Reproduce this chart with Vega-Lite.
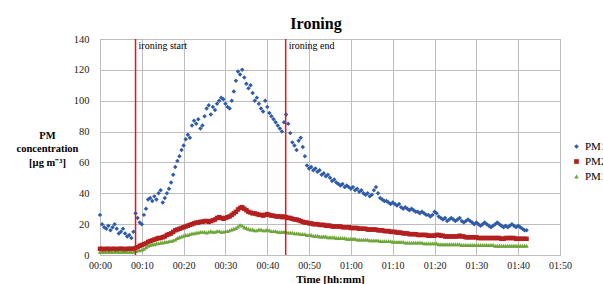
{
"$schema": "https://vega.github.io/schema/vega-lite/v6.json",
"width": 460, "height": 216,
"autosize": {"type": "none"},
"padding": {"left": 100, "top": 39, "right": 43, "bottom": 29},
"background": "white",
"config": {"font": "Liberation Serif", "view": {"stroke": "#A6A6A6"}},
"title": {"text": "Ironing", "fontSize": 16, "fontWeight": "bold", "font": "Liberation Serif", "anchor": "middle", "dx": -14, "offset": 2, "color": "black"},
"layer": [
{"data": {"values": [
{"t":0,"a":26,"b":4,"c":2},{"t":0.5,"a":20,"b":4,"c":2},{"t":1,"a":18,"b":3.5,"c":2},{"t":1.5,"a":17,"b":4,"c":2},{"t":2,"a":19,"b":4,"c":2},{"t":2.5,"a":16,"b":3.5,"c":2},{"t":3,"a":18,"b":4,"c":2},{"t":3.5,"a":20,"b":4,"c":2},{"t":4,"a":17,"b":3.5,"c":2},{"t":4.5,"a":14,"b":4,"c":2},{"t":5,"a":15,"b":4,"c":2},{"t":5.5,"a":17,"b":4,"c":2},{"t":6,"a":14,"b":3.5,"c":2},{"t":6.5,"a":12,"b":4,"c":2},{"t":7,"a":13,"b":4,"c":2},{"t":7.5,"a":11,"b":4,"c":2},{"t":8,"a":15,"b":4,"c":2},{"t":8.5,"a":27,"b":4.5,"c":2.5},{"t":9,"a":24,"b":5,"c":3},{"t":9.5,"a":21,"b":6,"c":3},{"t":10,"a":20,"b":6.5,"c":3.5},{"t":10.5,"a":26,"b":7,"c":4},{"t":11,"a":30,"b":7.5,"c":5},{"t":11.5,"a":36,"b":8.5,"c":6},{"t":12,"a":37,"b":9,"c":6.5},{"t":12.5,"a":35,"b":9.5,"c":7},{"t":13,"a":38,"b":10,"c":7},{"t":13.5,"a":36,"b":10.5,"c":7.5},{"t":14,"a":40,"b":11,"c":7.5},{"t":14.5,"a":42,"b":11,"c":8},{"t":15,"a":34,"b":11.5,"c":8},{"t":15.5,"a":37,"b":12,"c":8.5},{"t":16,"a":40,"b":13,"c":8.5},{"t":16.5,"a":43,"b":13.5,"c":9},{"t":17,"a":47,"b":14,"c":9},{"t":17.5,"a":52,"b":15,"c":9.5},{"t":18,"a":57,"b":16,"c":10},{"t":18.5,"a":61,"b":16.5,"c":11},{"t":19,"a":64,"b":17,"c":11.5},{"t":19.5,"a":68,"b":17.5,"c":12},{"t":20,"a":71,"b":18,"c":12.5},{"t":20.5,"a":75,"b":18.5,"c":13},{"t":21,"a":78,"b":19,"c":13},{"t":21.5,"a":76,"b":19.5,"c":13.5},{"t":22,"a":84,"b":20,"c":14},{"t":22.5,"a":87,"b":20.5,"c":14},{"t":23,"a":85,"b":21,"c":14.5},{"t":23.5,"a":88,"b":21,"c":14.5},{"t":24,"a":82,"b":21.5,"c":15},{"t":24.5,"a":84,"b":21.5,"c":15},{"t":25,"a":90,"b":22,"c":15},{"t":25.5,"a":95,"b":22,"c":14.5},{"t":26,"a":97,"b":21.5,"c":15},{"t":26.5,"a":91,"b":22,"c":15.5},{"t":27,"a":96,"b":22.5,"c":15},{"t":27.5,"a":94,"b":23,"c":15},{"t":28,"a":98,"b":24,"c":15.5},{"t":28.5,"a":100,"b":24.5,"c":15.5},{"t":29,"a":102,"b":24,"c":15},{"t":29.5,"a":101,"b":23.5,"c":15},{"t":30,"a":98,"b":24,"c":15.5},{"t":30.5,"a":96,"b":24.5,"c":15.5},{"t":31,"a":95,"b":25,"c":16},{"t":31.5,"a":100,"b":26,"c":16.5},{"t":32,"a":106,"b":27,"c":17},{"t":32.5,"a":113,"b":28,"c":17.5},{"t":33,"a":119,"b":29.5,"c":18.5},{"t":33.5,"a":117,"b":30.5,"c":19.5},{"t":34,"a":120,"b":31,"c":19},{"t":34.5,"a":115,"b":30,"c":18},{"t":35,"a":111,"b":29,"c":17.5},{"t":35.5,"a":108,"b":28,"c":17},{"t":36,"a":110,"b":27.5,"c":16.5},{"t":36.5,"a":105,"b":27,"c":16.5},{"t":37,"a":100,"b":27,"c":16},{"t":37.5,"a":102,"b":26.5,"c":16},{"t":38,"a":98,"b":26,"c":16.5},{"t":38.5,"a":95,"b":26,"c":16.5},{"t":39,"a":93,"b":25.5,"c":16},{"t":39.5,"a":100,"b":26,"c":16},{"t":40,"a":96,"b":26.5,"c":16.5},{"t":40.5,"a":92,"b":26,"c":16},{"t":41,"a":90,"b":25.5,"c":15.5},{"t":41.5,"a":88,"b":25.5,"c":15.5},{"t":42,"a":86,"b":25,"c":15.5},{"t":42.5,"a":84,"b":25,"c":15},{"t":43,"a":82,"b":25,"c":15},{"t":43.5,"a":80,"b":24.5,"c":15},{"t":44,"a":86,"b":25,"c":15},{"t":44.5,"a":91,"b":24.5,"c":15},{"t":45,"a":85,"b":24,"c":14.5},{"t":45.5,"a":79,"b":24,"c":14.5},{"t":46,"a":73,"b":23.5,"c":14.5},{"t":46.5,"a":71,"b":23,"c":14},{"t":47,"a":68,"b":23,"c":14},{"t":47.5,"a":74,"b":22.5,"c":14},{"t":48,"a":76,"b":22,"c":13.5},{"t":48.5,"a":70,"b":21.5,"c":13.5},{"t":49,"a":64,"b":21,"c":13.5},{"t":49.5,"a":58,"b":21,"c":13},{"t":50,"a":56,"b":20.5,"c":13},{"t":50.5,"a":57,"b":20.5,"c":13},{"t":51,"a":55,"b":20,"c":12.5},{"t":51.5,"a":56,"b":20,"c":12.5},{"t":52,"a":54,"b":20,"c":12.5},{"t":52.5,"a":55,"b":19.5,"c":12},{"t":53,"a":52,"b":19.5,"c":12},{"t":53.5,"a":53,"b":19.5,"c":12},{"t":54,"a":51,"b":19,"c":12},{"t":54.5,"a":52,"b":19,"c":11.5},{"t":55,"a":50,"b":19,"c":11.5},{"t":55.5,"a":48,"b":18.5,"c":11.5},{"t":56,"a":49,"b":18.5,"c":11.5},{"t":56.5,"a":47,"b":18.5,"c":11},{"t":57,"a":46,"b":18.5,"c":11},{"t":57.5,"a":45,"b":18.5,"c":11},{"t":58,"a":46,"b":18,"c":11},{"t":58.5,"a":44,"b":18,"c":11},{"t":59,"a":45,"b":18,"c":10.5},{"t":59.5,"a":44,"b":18,"c":10.5},{"t":60,"a":43,"b":17.5,"c":10.5},{"t":60.5,"a":44,"b":17.5,"c":10.5},{"t":61,"a":42,"b":17.5,"c":10.5},{"t":61.5,"a":43,"b":17.5,"c":10},{"t":62,"a":41,"b":17,"c":10},{"t":62.5,"a":42,"b":17,"c":10},{"t":63,"a":40,"b":17,"c":10},{"t":63.5,"a":39,"b":17,"c":10},{"t":64,"a":40,"b":16.5,"c":10},{"t":64.5,"a":38,"b":16.5,"c":9.5},{"t":65,"a":39,"b":16.5,"c":9.5},{"t":65.5,"a":42,"b":16.5,"c":9.5},{"t":66,"a":44,"b":16.5,"c":9.5},{"t":66.5,"a":40,"b":16,"c":9.5},{"t":67,"a":37,"b":16,"c":9},{"t":67.5,"a":36,"b":16,"c":9},{"t":68,"a":35,"b":15.5,"c":9},{"t":68.5,"a":35,"b":15.5,"c":9},{"t":69,"a":34,"b":15.5,"c":9},{"t":69.5,"a":33,"b":15,"c":9},{"t":70,"a":34,"b":15,"c":8.5},{"t":70.5,"a":33,"b":15,"c":8.5},{"t":71,"a":32,"b":14.5,"c":8.5},{"t":71.5,"a":33,"b":14.5,"c":8.5},{"t":72,"a":31,"b":14.5,"c":8.5},{"t":72.5,"a":30,"b":14,"c":8.5},{"t":73,"a":31,"b":14,"c":8},{"t":73.5,"a":30,"b":14,"c":8},{"t":74,"a":29,"b":13.5,"c":8},{"t":74.5,"a":30,"b":13.5,"c":8},{"t":75,"a":29,"b":13.5,"c":8},{"t":75.5,"a":28,"b":13.5,"c":8},{"t":76,"a":28,"b":13,"c":8},{"t":76.5,"a":27,"b":13,"c":8},{"t":77,"a":28,"b":13,"c":8},{"t":77.5,"a":27,"b":13,"c":7.5},{"t":78,"a":26,"b":13,"c":7.5},{"t":78.5,"a":26,"b":12.5,"c":7.5},{"t":79,"a":25,"b":12.5,"c":7.5},{"t":79.5,"a":26,"b":12.5,"c":7.5},{"t":80,"a":28,"b":12.5,"c":7.5},{"t":80.5,"a":27,"b":13,"c":7.5},{"t":81,"a":25,"b":13,"c":7},{"t":81.5,"a":24,"b":12.5,"c":7},{"t":82,"a":23,"b":12.5,"c":7},{"t":82.5,"a":24,"b":12,"c":7},{"t":83,"a":22,"b":12,"c":7},{"t":83.5,"a":23,"b":12,"c":7},{"t":84,"a":24,"b":12,"c":7},{"t":84.5,"a":23,"b":12,"c":7},{"t":85,"a":22,"b":12,"c":7},{"t":85.5,"a":23,"b":12,"c":7},{"t":86,"a":24,"b":12.5,"c":7},{"t":86.5,"a":22,"b":12,"c":6.5},{"t":87,"a":21,"b":12,"c":6.5},{"t":87.5,"a":22,"b":11.5,"c":6.5},{"t":88,"a":23,"b":11.5,"c":6.5},{"t":88.5,"a":22,"b":11.5,"c":6.5},{"t":89,"a":21,"b":11.5,"c":6.5},{"t":89.5,"a":20,"b":11.5,"c":6.5},{"t":90,"a":21,"b":11.5,"c":6.5},{"t":90.5,"a":20,"b":11,"c":6.5},{"t":91,"a":19,"b":11,"c":6.5},{"t":91.5,"a":20,"b":11,"c":6.5},{"t":92,"a":21,"b":11,"c":6.5},{"t":92.5,"a":20,"b":11,"c":6.5},{"t":93,"a":19,"b":11,"c":6.5},{"t":93.5,"a":18,"b":11,"c":6.5},{"t":94,"a":19,"b":11,"c":6.5},{"t":94.5,"a":20,"b":11,"c":6},{"t":95,"a":21,"b":11,"c":6},{"t":95.5,"a":20,"b":11,"c":6},{"t":96,"a":19,"b":10.5,"c":6},{"t":96.5,"a":18,"b":10.5,"c":6},{"t":97,"a":19,"b":11,"c":6},{"t":97.5,"a":18,"b":11,"c":6},{"t":98,"a":19,"b":11,"c":6},{"t":98.5,"a":20,"b":11,"c":6},{"t":99,"a":19,"b":11,"c":6},{"t":99.5,"a":18,"b":10.5,"c":6},{"t":100,"a":19,"b":10.5,"c":6},{"t":100.5,"a":18,"b":10.5,"c":6},{"t":101,"a":17,"b":10.5,"c":6},{"t":101.5,"a":16,"b":10.5,"c":6},{"t":102,"a":16,"b":10.5,"c":6}
]},
"transform": [{"fold": ["a", "b", "c"], "as": ["series", "value"]}],
"mark": {"type": "point", "filled": true, "opacity": 1, "size": 20},
"encoding": {
"x": {"field": "t", "type": "quantitative", "scale": {"domain": [0, 110], "nice": false},
"axis": {"values": [0,10,20,30,40,50,60,70,80,90,100,110], "labelExpr": "'0' + floor(datum.value/60) + ':' + (datum.value%60 < 10 ? '0' : '') + (datum.value%60)", "labelFlush": false, "labelOverlap": false, "grid": true, "gridColor": "#BDBDBD", "ticks": false, "domain": false, "labelPadding": 5, "labelFontSize": 10, "labelColor": "#222", "labelFont": "Liberation Serif", "title": "Time [hh:mm]", "titleFont": "Liberation Serif", "titleFontSize": 11, "titleFontWeight": "bold", "titlePadding": 3, "titleColor": "black"}},
"y": {"field": "value", "type": "quantitative", "scale": {"domain": [0, 140], "nice": false},
"axis": {"values": [0,20,40,60,80,100,120,140], "labelOverlap": false, "labelFlush": false, "grid": true, "gridColor": "#BDBDBD", "ticks": false, "domain": false, "labelPadding": 11, "labelFontSize": 10.5, "labelColor": "#222", "labelFont": "Liberation Serif", "title": ["PM", "concentration", "[µg m⁻³]"], "titleFont": "Liberation Serif", "titleFontSize": 10.5, "titleFontWeight": "bold", "titleAngle": 0, "titleAlign": "center", "titleBaseline": "top", "titleX": -53, "titleY": 91, "titleLineHeight": 13.5, "titleColor": "black"}},
"color": {"field": "series", "type": "nominal", "scale": {"domain": ["a", "b", "c"], "range": ["#2F5BA8", "#B3201F", "#6FA63A"]},
"legend": {"title": null, "orient": "none", "legendX": 471, "legendY": 102, "labelExpr": "{'a':'PM10','b':'PM2.5','c':'PM1'}[datum.value]", "labelFont": "Liberation Serif", "labelFontSize": 11, "labelColor": "black", "symbolSize": 22, "rowPadding": 3, "labelOffset": 3}},
"shape": {"field": "series", "type": "nominal", "scale": {"domain": ["a", "b", "c"], "range": ["diamond", "square", "triangle-up"]}}
}
},
{"data": {"values": [{"t": 8.5, "label": "ironing start"}, {"t": 44.4, "label": "ironing end"}]},
"mark": {"type": "rule", "color": "#E3141B", "strokeWidth": 1.5},
"encoding": {"x": {"field": "t", "type": "quantitative"}}},
{"data": {"values": [{"t": 8.5, "label": "ironing start", "ly": 135.5}, {"t": 44.4, "label": "ironing end", "ly": 135.5}]},
"mark": {"type": "text", "align": "left", "dx": 3, "baseline": "middle", "fontSize": 10, "font": "Liberation Serif", "color": "black"},
"encoding": {"x": {"field": "t", "type": "quantitative"}, "y": {"field": "ly", "type": "quantitative",
"axis": {"values": [0,20,40,60,80,100,120,140], "labelOverlap": false, "labelFlush": false, "grid": true, "gridColor": "#BDBDBD", "ticks": false, "domain": false, "labelPadding": 11, "labelFontSize": 10.5, "labelColor": "#222", "labelFont": "Liberation Serif", "title": ["PM", "concentration", "[µg m⁻³]"], "titleFont": "Liberation Serif", "titleFontSize": 10.5, "titleFontWeight": "bold", "titleAngle": 0, "titleAlign": "center", "titleBaseline": "top", "titleX": -53, "titleY": 91, "titleLineHeight": 13.5, "titleColor": "black"}}, "text": {"field": "label"}}}
]
}
